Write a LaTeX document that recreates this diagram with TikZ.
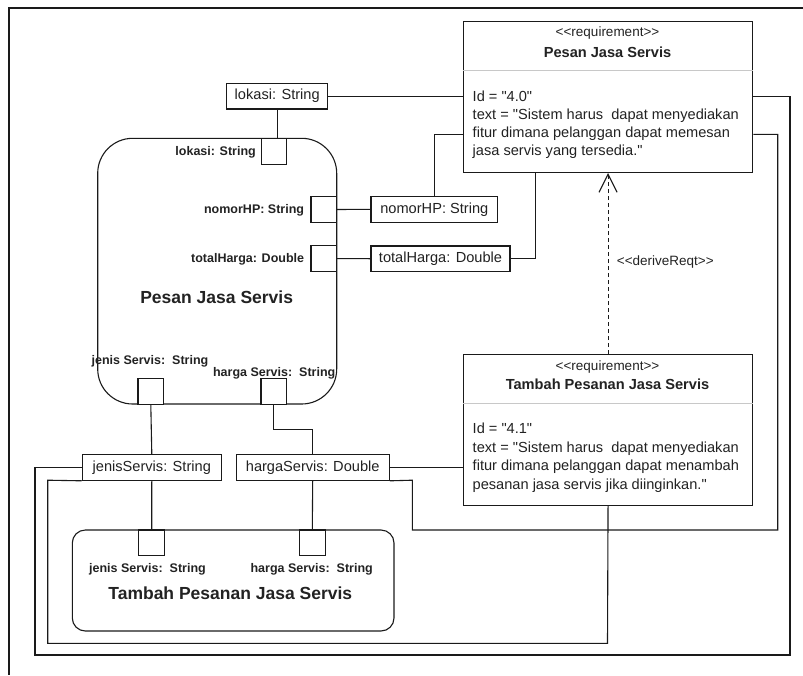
\documentclass[tikz,border=0pt]{standalone}
\usepackage{fontspec}
\setmainfont{Liberation Sans}[Ligatures=TeXOff]
\usetikzlibrary{arrows.meta}
\definecolor{ink}{HTML}{1A1A1A}
\definecolor{txt}{HTML}{222222}
\definecolor{divider}{HTML}{C8C8C8}
\begin{document}
\begin{tikzpicture}[x=1pt,y=-1pt,
  line/.style={draw=ink,line width=1.1pt},
  block/.style={line,fill=white,anchor=north west,inner sep=0pt},
  port/.style={line,fill=white,minimum width=25.7pt,minimum height=25.7pt,inner sep=0pt},
  flowlbl/.style={line,fill=white,inner sep=0pt,minimum height=25.5pt,text=txt,font=\fontsize{14.6}{17}\selectfont},
  plbl/.style={text=txt,inner sep=0pt,font=\bfseries\fontsize{12.5}{14}\selectfont},
  body/.style={text=txt,inner sep=0pt,anchor=base west,font=\fontsize{14.6}{17}\selectfont},
  title/.style={text=txt,inner sep=0pt,font=\bfseries\fontsize{17.5}{20}\selectfont},
  reqbox/.style={line,fill=white,anchor=north west,inner sep=0pt,minimum width=289.6pt},
  stereo/.style={text=txt,inner sep=0pt,font=\fontsize{13.5}{16}\selectfont},
  reqtitle/.style={text=txt,inner sep=0pt,font=\bfseries\fontsize{14.6}{17}\selectfont}]
\useasboundingbox (0,0) rectangle (803,675);

% outer frame (top and left edges)
\draw[line,line width=1.3pt] (803,8) -- (9,8) -- (9,675);

% ---------- requirement: Pesan Jasa Servis ----------
\node[reqbox,minimum height=151pt] (req1) at (462.7,21) {};
\draw[divider,line width=0.9pt] (req1.west |- 0,70) -- (req1.east |- 0,70);
\node[stereo] (req1st) at (607.5,33.3) {<<requirement>>};
\node[reqtitle] (req1ti) at (607.5,51.8) {Pesan Jasa Servis};
\node[body] (req1b1) at (472.5,101.8) {Id = "4.0"};
\node[body] (req1b2) at (472.5,119.6) {text = "Sistem harus\ \ dapat menyediakan};
\node[body] (req1b3) at (472.5,137.4) {fitur dimana pelanggan dapat memesan};
\node[body] (req1b4) at (472.5,155.2) {jasa servis yang tersedia."};

% ---------- requirement: Tambah Pesanan Jasa Servis ----------
\node[reqbox,minimum height=150.7pt] (req2) at (462.7,354) {};
\draw[divider,line width=0.9pt] (req2.west |- 0,403) -- (req2.east |- 0,403);
\node[stereo] (req2st) at (607.5,366.7) {<<requirement>>};
\node[reqtitle] (req2ti) at (607.5,384) {Tambah Pesanan Jasa Servis};
\node[body] (req2b1) at (472.5,433.5) {Id = "4.1"};
\node[body] (req2b2) at (472.5,452) {text = "Sistem harus\ \ dapat menyediakan};
\node[body] (req2b3) at (472.5,470.6) {fitur dimana pelanggan dapat menambah};
\node[body] (req2b4) at (472.5,489.2) {pesanan jasa servis jika diinginkan."};

% deriveReqt dependency
\draw[line,dash pattern=on 4pt off 3pt,-{Straight Barb[length=18pt,width=18pt,line width=1.1pt]}] (req2.north) -- (req1.south);
\node[stereo,anchor=west] (derive) at (616.7,261.7) {<<deriveReqt>>};

% ---------- block: Pesan Jasa Servis ----------
\draw[line,rounded corners=35pt] (97.7,138.3) rectangle (336.7,404);
\node[title] (pesanT) at (216.7,297) {Pesan Jasa Servis};
\node[port] (lokP) at (274,151.2) {};
\node[port] (nomP) at (323.8,209.5) {};
\node[port] (totP) at (323.8,258.6) {};
\node[port] (jenP) at (150.8,391.2) {};
\node[port] (harP) at (273.8,391.2) {};
\node[plbl,anchor=east] (lokPl) at (256,152.3) {lokasi: String};
\node[plbl,anchor=east] (nomPl) at (304.3,210) {nomorHP: String};
\node[plbl,anchor=east] (totPl) at (304.3,259) {totalHarga: Double};
\node[plbl] (jenPl) at (150,361.7) {jenis Servis:\ \ String};
\node[plbl] (harPl) at (274.2,373.3) {harga Servis:\ \ String};

% ---------- block: Tambah Pesanan Jasa Servis ----------
\draw[line,rounded corners=13pt] (72.3,530) rectangle (394,631);
\node[title] (tambahT) at (230.3,593.3) {Tambah Pesanan Jasa Servis};
\node[port] (jenT) at (151.7,542.8) {};
\node[port] (harT) at (312.3,542.8) {};
\node[plbl] (jenTl) at (147.5,569.3) {jenis Servis:\ \ String};
\node[plbl] (harTl) at (311.7,569.3) {harga Servis:\ \ String};

% ---------- item flow labels ----------
\node[flowlbl,minimum width=101pt] (lokL) at (277.2,96.2) {lokasi: String};
\node[flowlbl,minimum width=126.7pt] (nomL) at (434.3,209.3) {nomorHP: String};
\node[flowlbl,minimum width=139pt] (totL) at (440.5,258.7) {totalHarga: Double};
\node[flowlbl,minimum width=139pt] (jenL) at (151.8,467.5) {jenisServis: String};
\node[flowlbl,minimum width=153.3pt] (harL) at (312.7,467.5) {hargaServis: Double};

% ---------- connectors ----------
\coordinate (r1w1) at (req1.west |- lokL.east);
\coordinate (r1w2) at (req1.west |- 0,134.3);
\coordinate (r1e1) at (req1.east |- lokL.east);
\coordinate (r1e2) at (req1.east |- 0,134.3);
\coordinate (r1s) at (req1.south -| 535.7,0);

\draw[line] (lokL.east) -- (r1w1);
\draw[line] (lokL.south) -- (lokL.south |- lokP.north);
\draw[line] (nomP.east) -- (nomL.west);
\draw[line] (nomL.north) |- (r1w2);
\draw[line] (totP.east) -- (totL.west);
\draw[line] (totL.east) -| (r1s);
\draw[line] (r1e1) -| (790,655) -| (35,467.5) -- (jenL.west);
\draw[line] (r1e2) -| (777.7,530) -| (412.3,480.2) -- (harL.south east);
\draw[line] (req2.south) -- (607.5,643.3) -| (47.7,480.2) -- (jenL.south west);
\draw[line] (harL.east) -- (harL.east -| req2.west);
\draw[line] (jenP.south) -- (jenL.north);
\draw[line] (jenL.south) -- (jenT.north);
\draw[line] (harP.south) -- ++(0,25) -| (harL.north);
\draw[line] (harL.south) -- (harT.north);
\end{tikzpicture}
\end{document}
